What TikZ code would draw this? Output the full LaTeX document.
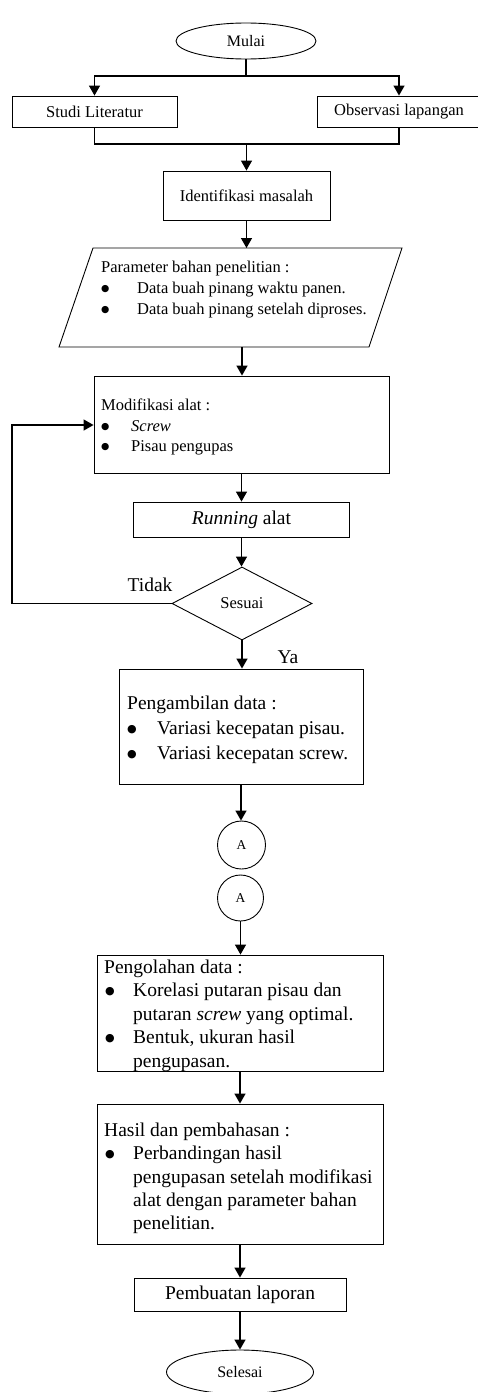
\documentclass[tikz,border=0pt]{standalone}
\usepackage{fontspec}
\usepackage{graphicx}
\setmainfont{Liberation Serif}
\newfontfamily\dejavu{DejaVu Sans}
\usetikzlibrary{shapes.geometric,arrows.meta}
% round list bullet: size, lift
\newcommand\dotbul[2]{\raisebox{#2}{\dejavu\fontsize{#1}{#1}\selectfont ●}}
\begin{document}
\begin{tikzpicture}[x=1pt,y=-1pt,
  box/.style={draw,line width=0.9pt,rectangle,inner sep=0pt},
  term/.style={draw,line width=0.9pt,ellipse,inner sep=0pt,font=\fontsize{16}{19}\selectfont},
  decis/.style={draw,line width=0.9pt,diamond,inner sep=0pt,font=\fontsize{16.5}{20}\selectfont},
  conn/.style={draw,line width=0.9pt,circle,inner sep=0pt,font=\fontsize{13.5}{16}\selectfont},
  flow/.style={line width=1.4pt,-{Triangle[length=10pt,width=11pt]}},
  wire/.style={line width=1.4pt},
  fs/.style={font=\fontsize{16.5}{20}\selectfont},
  fl/.style={font=\fontsize{19.5}{23.5}\selectfont},
  txt/.style={anchor=north west,align=left,inner sep=0pt}
]
\useasboundingbox (0,0) rectangle (478,1392);

% start and the two parallel first steps
\node[term,minimum width=140pt,minimum height=36pt] (mulai) at (246,41) {Mulai};
\node[box,fs,minimum width=165pt,minimum height=31pt] (studi) at (94.5,111.5) {Studi Literatur};
\node[box,fs,minimum width=164pt,minimum height=31pt] (obs) at (399,111.5) {Observasi lapangan};
\node[box,fs,minimum width=167pt,minimum height=49pt] (ident) at (246.5,195.5) {Identifikasi masalah};

\coordinate (split) at (246,76);
\coordinate (merge) at (246.5,144);
\draw[wire] (mulai.south) -- (split);
\draw[flow] (split) -| (studi.north);
\draw[flow] (split) -| (obs.north);
\draw[wire] (studi.south) |- (merge);
\draw[wire] (obs.south) |- (merge);
\draw[flow] (merge) -- (ident.north);

% input parameters (parallelogram)
\coordinate (pTL) at (93,248);
\coordinate (pTR) at (402,248);
\coordinate (pBR) at (369,347);
\coordinate (pBL) at (59,347);
\coordinate (pB) at (242,347);
\draw[line width=0.9pt] (pTL) -- (pTR) -- (pBR) -- (pBL) -- cycle;
\node[txt,font=\fontsize{16.5}{21}\selectfont] (param) at (101,260.7)
  {Parameter bahan penelitian :\\
   \makebox[36pt][l]{\dotbul{9.5}{1.6pt}}Data buah pinang waktu panen.\\
   \makebox[36pt][l]{\dotbul{9.5}{1.6pt}}Data buah pinang setelah diproses.};
\draw[flow] (ident.south) -- (ident.south |- pTL);

% tool modification
\node[box,minimum width=295pt,minimum height=97pt] (modif) at (241.5,424.5) {};
\node[txt,font=\fontsize{16.5}{20.5}\selectfont] (modiftext) at (101,398.7)
  {Modifikasi alat :\\
   \makebox[30pt][l]{\dotbul{9.5}{1.6pt}}\textit{Screw}\\
   \makebox[30pt][l]{\dotbul{9.5}{1.6pt}}Pisau pengupas};
\draw[flow] (pB) -- (pB |- modif.north);

\node[box,fl,minimum width=216pt,minimum height=35pt] (run) at (241.5,519.5) {\textit{Running} alat};
\draw[flow] (modif.south) -- (run.north);

% decision
\node[decis,minimum width=140pt,minimum height=73pt] (dec) at (242,603.5) {Sesuai};
\draw[flow] (run.south) -- (run.south |- dec.north);
\coordinate (loopL) at (12,425);
\draw[flow] (dec.west) -| (loopL) -- (loopL -| modif.west);
\node[fl,inner sep=0pt] (tidak) at (150,585) {Tidak};
\node[fl,inner sep=0pt] (ya) at (288,657) {Ya};

% data collection
\node[box,minimum width=244pt,minimum height=115pt] (ambil) at (241,726.5) {};
\node[txt,font=\fontsize{19.5}{25}\selectfont] (ambiltext) at (127,695.7)
  {Pengambilan data :\\
   \makebox[30pt][l]{\dotbul{11}{2pt}}Variasi kecepatan pisau.\\
   \makebox[30pt][l]{\dotbul{11}{2pt}}Variasi kecepatan screw.};
\draw[flow] (dec.south) -- (dec.south |- ambil.north);

% off-page connectors
\node[conn,minimum size=48pt] (a1) at (241.5,845) {A};
\node[conn,minimum size=46pt] (a2) at (240.5,898) {A};
\draw[flow] (ambil.south) -- (ambil.south |- a1.north);

% data processing
\node[box,minimum width=286pt,minimum height=116pt] (olah) at (240,1013) {};
\node[txt,font=\fontsize{19.5}{23.5}\selectfont] (olahtext) at (104,959.7)
  {Pengolahan data :\\
   \makebox[29pt][l]{\hspace{1pt}\dotbul{11}{2pt}}Korelasi putaran pisau dan\\
   \hspace*{29pt}putaran \textit{screw} yang optimal.\\
   \makebox[29pt][l]{\hspace{1pt}\dotbul{11}{2pt}}Bentuk, ukuran hasil\\
   \hspace*{29pt}pengupasan.};
\draw[flow] (a2.south) -- (a2.south |- olah.north);

% results
\node[box,minimum width=286pt,minimum height=140pt] (hasil) at (240,1174) {};
\node[txt,font=\fontsize{19.5}{23.3}\selectfont] (hasiltext) at (104,1122.7)
  {Hasil dan pembahasan :\\
   \makebox[29pt][l]{\hspace{1pt}\dotbul{11}{2pt}}Perbandingan hasil\\
   \hspace*{29pt}pengupasan setelah modifikasi\\
   \hspace*{29pt}alat dengan parameter bahan\\
   \hspace*{29pt}penelitian.};
\draw[flow] (olah.south) -- (hasil.north);

% report and end
\node[box,fl,minimum width=212pt,minimum height=33pt] (buat) at (240,1294.5) {Pembuatan laporan};
\draw[flow] (hasil.south) -- (buat.north);
\node[term,minimum width=147pt,minimum height=44pt] (selesai) at (240,1372) {Selesai};
\draw[flow] (buat.south) -- (selesai.north);
\end{tikzpicture}
\end{document}
